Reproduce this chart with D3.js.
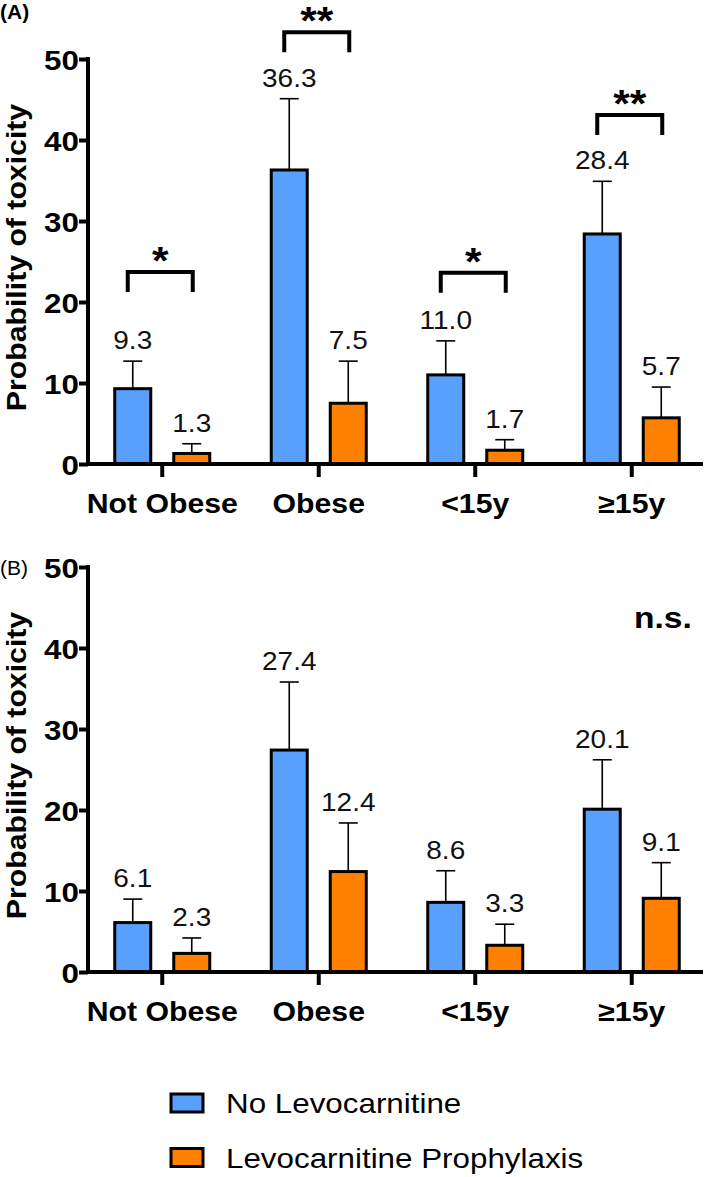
<!DOCTYPE html>
<html>
<head>
<meta charset="utf-8">
<script src="https://cdn.jsdelivr.net/npm/d3@7"></script>
<style>
  body { margin: 0; background: #fff; }
  svg { display: block; font-family: "Liberation Sans", Arial, sans-serif; }
</style>
</head>
<body>
<svg id="chart" width="709" height="1177"></svg>
<script>
// categories and series
const categories = ['Not Obese', 'Obese', '<15y', '\u226515y'];
const series = ['No Levocarnitine', 'Levocarnitine Prophylaxis'];
const colors = ['#58a0fb', '#ff8000'];
const yTicks = [0, 10, 20, 30, 40, 50];

// panel A: means and upper error values
const aNone = [9.3, 36.3, 11.0, 28.4];
const aProphy = [1.3, 7.5, 1.7, 5.7];
const aNoneUpper = [12.7, 45.1, 15.2, 34.9];
const aProphyUpper = [2.5, 12.7, 3.0, 9.5];
// significance brackets panel A
const aSigLevel = [23.7, 53.3, 23.6, 43.1];
const aSigLabel = ['*', '**', '*', '**'];

// panel B
const bNone = [6.1, 27.4, 8.6, 20.1];
const bProphy = [2.3, 12.4, 3.3, 9.1];
const bNoneUpper = [9.0, 35.8, 12.5, 26.2];
const bProphyUpper = [4.2, 18.4, 5.9, 13.5];

const svg = d3.select('#chart');
const SX = 1.12; // horizontal stretch of the original figure's lettering
const fmt = d3.format('.1f');

const x = d3.scaleBand().domain(categories).range([84, 710]);
const xs = d3.scalePoint().domain(series).range([-29.5, 29.5]);
const barW = 36;

function hText(g, x0, y0, txt) {
    return g.append('text')
        .attr('transform', `translate(${x0},${y0}) scale(${SX},1)`)
        .text(txt);
}

function drawPanel(opts) {
    const g = svg.append('g');
    const y = d3.scaleLinear().domain([0, 50]).range([opts.bottom, opts.bottom - 405]);
    const cx = c => x(c) + x.bandwidth() / 2;

    // rows of bars
    const rows = [];
    categories.forEach(function (c, i) {
        rows.push({cat: c, s: series[0], v: opts.none[i], up: opts.noneUpper[i], color: colors[0]});
        rows.push({cat: c, s: series[1], v: opts.prophy[i], up: opts.prophyUpper[i], color: colors[1]});
    });

    // error bars (upper only)
    g.selectAll('line.err').data(rows).enter().append('line')
        .attr('x1', d => cx(d.cat) + xs(d.s)).attr('x2', d => cx(d.cat) + xs(d.s))
        .attr('y1', d => y(d.v)).attr('y2', d => y(d.up))
        .attr('stroke', '#000').attr('stroke-width', 1.6);
    g.selectAll('line.cap').data(rows).enter().append('line')
        .attr('x1', d => cx(d.cat) + xs(d.s) - 9.5).attr('x2', d => cx(d.cat) + xs(d.s) + 9.5)
        .attr('y1', d => y(d.up)).attr('y2', d => y(d.up))
        .attr('stroke', '#000').attr('stroke-width', 1.6);

    // bars
    g.selectAll('rect.bar').data(rows).enter().append('rect')
        .attr('x', d => cx(d.cat) + xs(d.s) - barW / 2)
        .attr('y', d => y(d.v))
        .attr('width', barW)
        .attr('height', d => y(0) - y(d.v))
        .attr('fill', d => d.color)
        .attr('stroke', '#000').attr('stroke-width', 3);

    // value labels
    rows.forEach(function (d) {
        hText(g, cx(d.cat) + xs(d.s), y(d.up) - 12, fmt(d.v))
            .attr('text-anchor', 'middle').attr('font-size', 25).attr('fill', '#111');
    });

    // y axis
    const yAxis = g.append('g').attr('transform', 'translate(88,0)')
        .call(d3.axisLeft(y).tickValues(yTicks).tickSize(9).tickPadding(4).tickFormat(d3.format('d')));
    yAxis.select('.domain').attr('stroke-width', 4).attr('d', `M0,${y(0)}V${y(50) - 2}`);
    yAxis.selectAll('.tick line').attr('stroke-width', 4);
    yAxis.selectAll('.tick text')
        .attr('font-size', 28).attr('font-weight', 'bold').attr('fill', '#000')
        .attr('font-family', '"Liberation Sans", Arial, sans-serif')
        .attr('dy', '0.36em')
        .attr('transform', `scale(${SX},1)`)
        .attr('x', -9 / SX);

    // x axis
    const xAxis = g.append('g').attr('transform', `translate(0,${y(0)})`)
        .call(d3.axisBottom(x).tickSize(13).tickPadding(0).tickFormat(''));
    xAxis.select('.domain').attr('stroke-width', 4).attr('d', 'M86,0H703');
    xAxis.selectAll('.tick line').attr('stroke-width', 4);
    categories.forEach(function (c) {
        hText(g, cx(c), y(0) + 49, c)
            .attr('text-anchor', 'middle').attr('font-size', 27).attr('font-weight', 'bold');
    });

    // y axis title
    g.append('text')
        .attr('transform', `translate(26,${(y(0) + y(50)) / 2 - 4}) rotate(-90) scale(1.08,1)`)
        .attr('text-anchor', 'middle').attr('font-size', 28).attr('font-weight', 'bold')
        .text('Probability of toxicity');

    // panel letter
    g.append('text').attr('x', 0).attr('y', opts.letterY)
        .attr('font-size', 21).attr('font-weight', opts.letterWeight)
        .text(opts.letter);

    // significance brackets
    if (opts.sigLevel) {
        categories.forEach(function (c, i) {
            const x1 = cx(c) + xs(series[0]) - 5,
                x2 = cx(c) + xs(series[1]) + 1,
                yb = y(opts.sigLevel[i]);
            g.append('path')
                .attr('d', `M${x1},${yb + 20}V${yb}H${x2}V${yb + 20}`)
                .attr('fill', 'none').attr('stroke', '#000').attr('stroke-width', 4);
            hText(g, (x1 + x2) / 2, yb + 2, opts.sigLabel[i])
                .attr('text-anchor', 'middle').attr('font-size', 38).attr('font-weight', 'bold');
        });
    }
    if (opts.ns) {
        hText(g, 634, y(0) - 344, opts.ns)
            .attr('font-size', 30).attr('font-weight', 'bold');
    }
}

drawPanel({bottom: 464, none: aNone, prophy: aProphy, noneUpper: aNoneUpper, prophyUpper: aProphyUpper,
    sigLevel: aSigLevel, sigLabel: aSigLabel, letter: '(A)', letterY: 19, letterWeight: 'bold'});
drawPanel({bottom: 972, none: bNone, prophy: bProphy, noneUpper: bNoneUpper, prophyUpper: bProphyUpper,
    ns: 'n.s.', letter: '(B)', letterY: 575, letterWeight: 'normal'});

// legend
const legend = svg.append('g');
series.forEach(function (s, i) {
    const ly = 1094 + i * 54.5;
    legend.append('rect').attr('x', 171).attr('y', ly).attr('width', 32).attr('height', 18)
        .attr('fill', colors[i]).attr('stroke', '#000').attr('stroke-width', 3);
    hText(legend, 226, ly + 19, s).attr('font-size', 28);
});
</script>
</body>
</html>
